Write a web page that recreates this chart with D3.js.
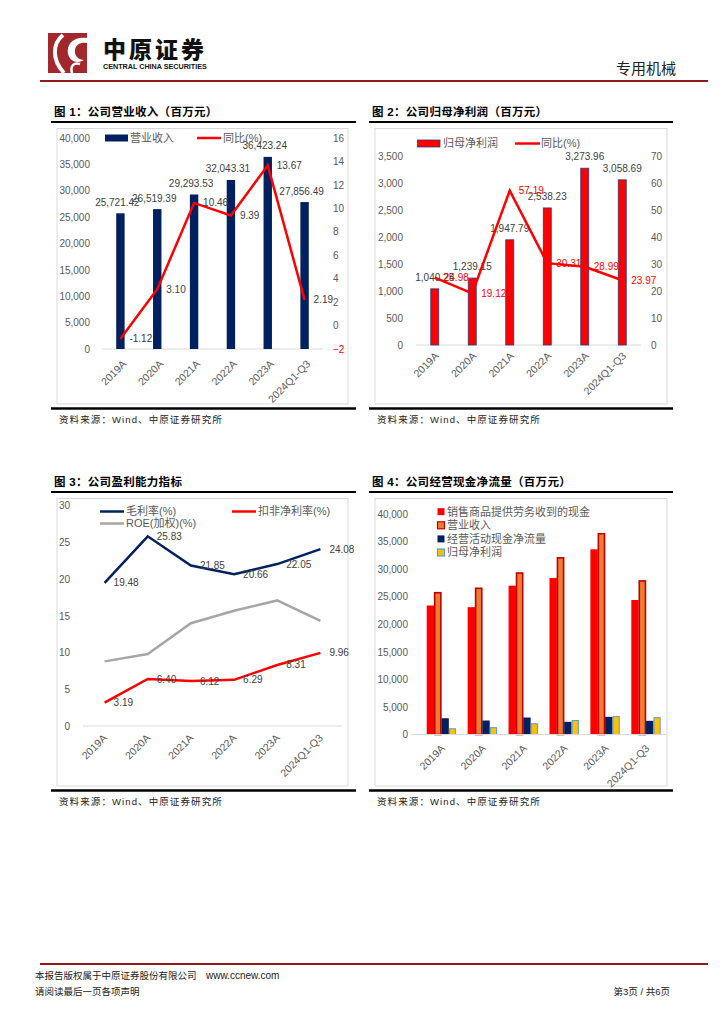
<!DOCTYPE html>
<html>
<head>
<meta charset="utf-8">
<script src="https://cdn.jsdelivr.net/npm/d3@7"></script>
<style>
body { margin: 0; background: #fff; }
text { font-family: "Liberation Sans", Arial, "Noto Sans CJK SC", sans-serif; }
</style>
</head>
<body>
<svg id="page" width="724" height="1024"></svg>
<script>
// Data
var years = ['2019A', '2020A', '2021A', '2022A', '2023A', '2024Q1-Q3'];
var revenue = [25721.42, 26519.39, 29293.53, 32043.31, 36423.24, 27856.49];
var revenueYoy = [-1.12, 3.10, 10.46, 9.39, 13.67, 2.19];
var netProfit = [1040.25, 1239.15, 1947.79, 2538.23, 3273.96, 3058.69];
var netProfitYoy = [24.98, 19.12, 57.19, 30.31, 28.99, 23.97];
var grossMargin = [19.48, 25.83, 21.85, 20.66, 22.05, 24.08];
var deductedMargin = [3.19, 6.40, 6.12, 6.29, 8.31, 9.96];
var roe = [8.8, 9.8, 14.0, 15.7, 17.1, 14.3];
var salesCash = [23400, 23100, 27000, 28400, 33600, 24400];
var operatingCash = [2950, 2540, 3080, 2300, 3200, 2480];

// Tick values
var ticks40k = [0, 5000, 10000, 15000, 20000, 25000, 30000, 35000, 40000];
var ticksYoy1 = [-2, 0, 2, 4, 6, 8, 10, 12, 14, 16];
var ticks3500 = [0, 500, 1000, 1500, 2000, 2500, 3000, 3500];
var ticksYoy2 = [0, 10, 20, 30, 40, 50, 60, 70];
var ticksPct = [0, 5, 10, 15, 20, 25, 30];

var NAVY = '#002060', RED = '#FF0000', GRAY = '#A6A6A6', TXT = '#595959', LBL = '#404040';
var CN = '"Noto Sans CJK SC", sans-serif';
var fmt = d3.format(',');
var fmt2 = d3.format(',.2f');

var svg = d3.select('#page');

// ---------- header ----------
svg.append('rect').attr('x', 48).attr('y', 33).attr('width', 39).attr('height', 40).attr('fill', '#A2282E');
svg.append('path').attr('d', 'M63,35 C52,44 52,60 64,73').attr('fill', 'none').attr('stroke', '#fff').attr('stroke-width', 4);
svg.append('path').attr('d', 'M87,38 C74,36 66,44 68,54 C70,62 78,64 84,60 C79,60 74,56 75,50 C76,44 81,42 87,43 Z').attr('fill', '#fff');
svg.append('path').attr('d', 'M72,73 C70,66 74,62 80,64').attr('fill', 'none').attr('stroke', '#fff').attr('stroke-width', 2.5);
svg.append('text').attr('x', 103).attr('y', 58).attr('font-family', CN).attr('font-weight', 900)
    .attr('font-size', 23).attr('letter-spacing', 3).attr('fill', '#111').text('中原证券');
svg.append('text').attr('x', 103).attr('y', 69).attr('font-weight', 700).attr('font-size', 7.2)
    .attr('fill', '#111').text('CENTRAL CHINA SECURITIES');
svg.append('text').attr('x', 676).attr('y', 74).attr('text-anchor', 'end').attr('font-family', CN)
    .attr('font-size', 15).attr('fill', '#222').text('专用机械');
svg.append('line').attr('x1', 40).attr('x2', 708).attr('y1', 81).attr('y2', 81)
    .attr('stroke', '#8E1B1F').attr('stroke-width', 2);

// ---------- footer ----------
svg.append('line').attr('x1', 40).attr('x2', 708).attr('y1', 964).attr('y2', 964)
    .attr('stroke', '#8E1B1F').attr('stroke-width', 2);
svg.append('text').attr('x', 35).attr('y', 979).attr('font-family', CN).attr('font-size', 9.5).attr('fill', '#222')
    .text('本报告版权属于中原证券股份有限公司');
svg.append('text').attr('x', 206).attr('y', 979).attr('font-size', 10).attr('fill', '#222').text('www.ccnew.com');
svg.append('text').attr('x', 35).attr('y', 995).attr('font-family', CN).attr('font-size', 9.5).attr('fill', '#222')
    .text('请阅读最后一页各项声明');
svg.append('text').attr('x', 670).attr('y', 995).attr('text-anchor', 'end').attr('font-family', CN)
    .attr('font-size', 9.5).attr('fill', '#222').text('第3页 / 共6页');

// ---------- panel frame ----------
function panel(title, x0, x1, top, boxL, boxR, boxB) {
    svg.append('text').attr('x', x0 + 3).attr('y', top).attr('font-family', CN).attr('font-weight', 700)
        .attr('font-size', 11.5).attr('letter-spacing', 0.3).attr('fill', '#000').text(title);
    svg.append('line').attr('x1', x0).attr('x2', x1).attr('y1', top + 6).attr('y2', top + 6)
        .attr('stroke', '#000').attr('stroke-width', 2);
    svg.append('rect').attr('x', boxL).attr('y', top + 12.5).attr('width', boxR - boxL).attr('height', boxB - top - 12.5)
        .attr('fill', 'none').attr('stroke', '#D9D9D9');
    svg.append('line').attr('x1', x0).attr('x2', x1).attr('y1', boxB + 4.5).attr('y2', boxB + 4.5)
        .attr('stroke', '#000').attr('stroke-width', 2.5);
    svg.append('text').attr('x', x0 + 8).attr('y', boxB + 19).attr('font-family', CN).attr('font-size', 9.5)
        .attr('letter-spacing', 1.1).attr('fill', '#222').text('资料来源：Wind、中原证券研究所');
}

function styleAxis(g) {
    g.select('.domain').remove();
    g.selectAll('text').attr('font-family', '"Liberation Sans", Arial, sans-serif')
        .attr('font-size', 10).attr('fill', TXT);
}

function xLabels(g, x, y0, dx, dy) {
    g.selectAll('.xl').data(years).enter().append('text')
        .attr('transform', function (d) {
            return 'translate(' + (x(d) + x.bandwidth() / 2 + dx) + ',' + (y0 + dy) + ') rotate(-45)';
        })
        .attr('text-anchor', 'end').attr('dy', '0.35em')
        .attr('font-size', 10.5).attr('fill', TXT).text(function (d) { return d; });
}

function baseline(g, x, y0) {
    g.append('line').attr('x1', x.range()[0]).attr('x2', x.range()[1]).attr('y1', y0).attr('y2', y0)
        .attr('stroke', '#D9D9D9').attr('stroke-width', 1);
}

function pointLabels(g, x, y, values, color) {
    g.selectAll(null).data(values).enter().append('text')
        .attr('x', function (d, i) { return x(years[i]) + x.bandwidth() / 2 + 9; })
        .attr('y', function (d) { return y(d); })
        .attr('dy', '0.35em').attr('font-size', 10).attr('fill', color)
        .text(function (d) { return d.toFixed(2); });
}

// ---------- Figure 1 ----------
panel('图 1：公司营业收入（百万元）', 51, 356, 116, 57, 348, 404);
var g1 = svg.append('g');
var x1 = d3.scaleBand().domain(years).range([102, 323]);
var y1 = d3.scaleLinear().domain([0, 40000]).range([349, 138]);
var y1r = d3.scaleLinear().domain([-2, 16]).range([349, 138]);

g1.append('g').attr('transform', 'translate(92,0)')
    .call(d3.axisLeft(y1).tickValues(ticks40k).tickFormat(fmt).tickSize(0).tickPadding(2)).call(styleAxis);
g1.append('g').attr('transform', 'translate(331,0)')
    .call(d3.axisRight(y1r).tickValues(ticksYoy1).tickSize(0).tickPadding(2)).call(styleAxis)
    .selectAll('text').attr('fill', function (d) { return d < 0 ? RED : TXT; });
baseline(g1, x1, 349);

g1.selectAll('.bar').data(revenue).enter().append('rect')
    .attr('x', function (d, i) { return x1(years[i]) + x1.bandwidth() / 2 - 4.2; })
    .attr('y', function (d) { return y1(d); })
    .attr('width', 8.4)
    .attr('height', function (d) { return y1(0) - y1(d); })
    .attr('fill', NAVY);
g1.selectAll('.bl').data(revenue).enter().append('text')
    .attr('x', function (d, i) { return x1(years[i]) + x1.bandwidth() / 2 - 3; })
    .attr('y', function (d) { return y1(d) - 11; })
    .attr('dy', '0.35em').attr('text-anchor', 'middle').attr('font-size', 10).attr('fill', LBL)
    .text(function (d) { return fmt2(d); });
g1.append('path').datum(revenueYoy)
    .attr('d', d3.line().x(function (d, i) { return x1(years[i]) + x1.bandwidth() / 2; }).y(function (d) { return y1r(d); }))
    .attr('fill', 'none').attr('stroke', RED).attr('stroke-width', 2.5);
pointLabels(g1, x1, y1r, revenueYoy, LBL);
xLabels(g1, x1, 349, 4, 13);

// legend 1
g1.append('rect').attr('x', 105).attr('y', 134.5).attr('width', 23).attr('height', 7).attr('fill', NAVY);
g1.append('text').attr('x', 130).attr('y', 138).attr('dy', '0.35em').attr('font-family', CN)
    .attr('font-size', 11).attr('fill', TXT).text('营业收入');
g1.append('line').attr('x1', 197).attr('x2', 221).attr('y1', 138).attr('y2', 138).attr('stroke', RED).attr('stroke-width', 2.5);
g1.append('text').attr('x', 223).attr('y', 138).attr('dy', '0.35em').attr('font-family', CN)
    .attr('font-size', 11).attr('fill', TXT).text('同比(%)');

// ---------- Figure 2 ----------
panel('图 2：公司归母净利润（百万元）', 369, 673, 116, 375, 667, 404);
var g2 = svg.append('g');
var x2 = d3.scaleBand().domain(years).range([416, 641]);
var y2 = d3.scaleLinear().domain([0, 3500]).range([345, 156]);
var y2r = d3.scaleLinear().domain([0, 70]).range([345, 156]);

g2.append('g').attr('transform', 'translate(405,0)')
    .call(d3.axisLeft(y2).tickValues(ticks3500).tickFormat(fmt).tickSize(0).tickPadding(2)).call(styleAxis);
g2.append('g').attr('transform', 'translate(649,0)')
    .call(d3.axisRight(y2r).tickValues(ticksYoy2).tickSize(0).tickPadding(2)).call(styleAxis);
baseline(g2, x2, 345);

g2.selectAll('.bar').data(netProfit).enter().append('rect')
    .attr('x', function (d, i) { return x2(years[i]) + x2.bandwidth() / 2 - 4; })
    .attr('y', function (d) { return y2(d); })
    .attr('width', 8)
    .attr('height', function (d) { return y2(0) - y2(d); })
    .attr('fill', RED).attr('stroke', '#2F3A7A').attr('stroke-width', 0.8);
g2.selectAll('.bl').data(netProfit).enter().append('text')
    .attr('x', function (d, i) { return x2(years[i]) + x2.bandwidth() / 2; })
    .attr('y', function (d) { return y2(d) - 11.5; })
    .attr('dy', '0.35em').attr('text-anchor', 'middle').attr('font-size', 10).attr('fill', LBL)
    .text(function (d) { return fmt2(d); });
g2.append('path').datum(netProfitYoy)
    .attr('d', d3.line().x(function (d, i) { return x2(years[i]) + x2.bandwidth() / 2; }).y(function (d) { return y2r(d); }))
    .attr('fill', 'none').attr('stroke', RED).attr('stroke-width', 2.5);
pointLabels(g2, x2, y2r, netProfitYoy, RED);
xLabels(g2, x2, 345, 2, 9);

// legend 2
g2.append('rect').attr('x', 417.5).attr('y', 140).attr('width', 22.5).attr('height', 7)
    .attr('fill', RED).attr('stroke', '#2F3A7A').attr('stroke-width', 0.8);
g2.append('text').attr('x', 443).attr('y', 143.5).attr('dy', '0.35em').attr('font-family', CN)
    .attr('font-size', 11).attr('fill', TXT).text('归母净利润');
g2.append('line').attr('x1', 515).attr('x2', 540).attr('y1', 143.5).attr('y2', 143.5).attr('stroke', RED).attr('stroke-width', 2.5);
g2.append('text').attr('x', 541).attr('y', 143.5).attr('dy', '0.35em').attr('font-family', CN)
    .attr('font-size', 11).attr('fill', TXT).text('同比(%)');

// ---------- Figure 3 ----------
panel('图 3：公司盈利能力指标', 51, 356, 486, 57, 348, 786);
var g3 = svg.append('g');
var x3 = d3.scaleBand().domain(years).range([83, 342]);
var y3 = d3.scaleLinear().domain([0, 30]).range([726, 505.7]);

g3.append('g').attr('transform', 'translate(72,0)')
    .call(d3.axisLeft(y3).tickValues(ticksPct).tickSize(0).tickPadding(2)).call(styleAxis);
baseline(g3, x3, 726);

var line3 = d3.line().x(function (d, i) { return x3(years[i]) + x3.bandwidth() / 2; }).y(function (d) { return y3(d); });
g3.append('path').datum(roe).attr('d', line3).attr('fill', 'none').attr('stroke', GRAY).attr('stroke-width', 2.5);
g3.append('path').datum(grossMargin).attr('d', line3).attr('fill', 'none').attr('stroke', NAVY).attr('stroke-width', 2.5);
g3.append('path').datum(deductedMargin).attr('d', line3).attr('fill', 'none').attr('stroke', RED).attr('stroke-width', 2.5);
pointLabels(g3, x3, y3, grossMargin, LBL);
pointLabels(g3, x3, y3, deductedMargin, LBL);
xLabels(g3, x3, 726, 0.5, 10);

// legend 3
var leg3 = [
    { name: '毛利率(%)', color: NAVY, x: 100, y: 511.5 },
    { name: '扣非净利率(%)', color: RED, x: 232, y: 511.5 },
    { name: 'ROE(加权)(%)', color: GRAY, x: 100, y: 523.5 }
];
leg3.forEach(function (l) {
    g3.append('line').attr('x1', l.x).attr('x2', l.x + 24).attr('y1', l.y).attr('y2', l.y)
        .attr('stroke', l.color).attr('stroke-width', 2.5);
    g3.append('text').attr('x', l.x + 26).attr('y', l.y).attr('dy', '0.35em').attr('font-family', CN)
        .attr('font-size', 11).attr('fill', TXT).text(l.name);
});

// ---------- Figure 4 ----------
panel('图 4：公司经营现金净流量（百万元）', 369, 673, 486, 375, 667, 786);
var g4 = svg.append('g');
var x4 = d3.scaleBand().domain(years).range([421, 666.5]).paddingInner(0.28).paddingOuter(0.14);
var y4 = d3.scaleLinear().domain([0, 40000]).range([734.5, 514]);
var series4 = [
    { name: '销售商品提供劳务收到的现金', values: salesCash, fill: RED, stroke: 'none' },
    { name: '营业收入', values: revenue, fill: '#ED7D31', stroke: '#C00000' },
    { name: '经营活动现金净流量', values: operatingCash, fill: NAVY, stroke: 'none' },
    { name: '归母净利润', values: netProfit, fill: '#FFC000', stroke: '#5B9BD5' }
];
var xs4 = d3.scaleBand().domain(d3.range(series4.length)).range([0, x4.bandwidth()]);

g4.append('g').attr('transform', 'translate(410,0)')
    .call(d3.axisLeft(y4).tickValues(ticks40k).tickFormat(fmt).tickSize(0).tickPadding(2)).call(styleAxis);

series4.forEach(function (s, si) {
    g4.selectAll(null).data(s.values).enter().append('rect')
        .attr('x', function (d, i) { return x4(years[i]) + xs4(si) + (s.stroke === 'none' ? 0 : 0.6); })
        .attr('y', function (d) { return y4(d); })
        .attr('width', xs4.bandwidth() - (s.stroke === 'none' ? 0 : 1.2))
        .attr('height', function (d) { return y4(0) - y4(d); })
        .attr('fill', s.fill).attr('stroke', s.stroke).attr('stroke-width', si === 1 ? 1.6 : 1);
});
g4.append('line').attr('x1', 411).attr('x2', 666).attr('y1', 734.5).attr('y2', 734.5)
    .attr('stroke', '#D9D9D9').attr('stroke-width', 1);
xLabels(g4, x4, 734.5, 1.5, 12);

// legend 4
series4.forEach(function (s, si) {
    var ly = 511.7 + si * 13.6;
    g4.append('rect').attr('x', 437.5).attr('y', ly - 3.5).attr('width', 7).attr('height', 7)
        .attr('fill', s.fill).attr('stroke', s.stroke).attr('stroke-width', 1.2);
    g4.append('text').attr('x', 447).attr('y', ly).attr('dy', '0.35em').attr('font-family', CN)
        .attr('font-size', 11).attr('fill', TXT).text(s.name);
});
</script>
</body>
</html>
